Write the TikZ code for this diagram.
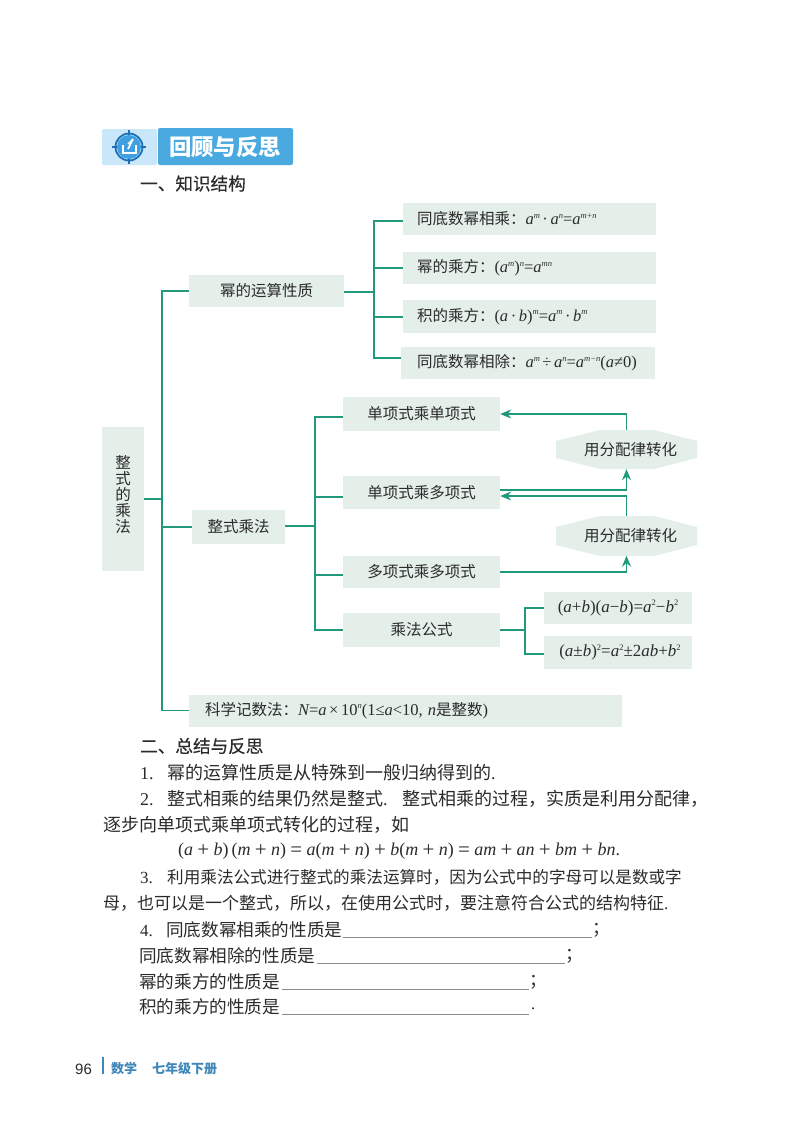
\documentclass[tikz,border=0pt]{standalone}
\usepackage{fontspec}
\setmainfont{Noto Sans CJK SC}
\newfontfamily\lat{Liberation Serif}
\newfontfamily\latsans{Liberation Sans}
\newfontfamily\headf[FakeBold=0.4]{Noto Sans CJK SC}
\usetikzlibrary{arrows.meta}
\definecolor{ink}{HTML}{2B2B2B}
\definecolor{gline}{HTML}{22997A}
\definecolor{boxfill}{HTML}{E4EFE9}
\definecolor{bluebar}{HTML}{4AA9DF}
\definecolor{bluelight}{HTML}{C9E7F9}
\definecolor{iconblue}{HTML}{1B6FB6}
\definecolor{icondisc}{HTML}{3F9FE0}
\definecolor{footblue}{HTML}{3F87B8}
\def\lsz{16.5}
\newcommand\mi[1]{{\lat\itshape\fontsize{\lsz}{\lsz}\selectfont #1}}
\newcommand\ro[1]{{\lat\fontsize{\lsz}{\lsz}\selectfont #1}}
\newcommand\su[1]{\raisebox{.42em}{\def\lsz{8.5}#1}}
\newcommand\pls{\hspace{4.3pt}\raisebox{-1pt}{{\lat\fontsize{21}{21}\selectfont +}}\hspace{4.3pt}}
\newcommand\eqs{\hspace{4.3pt}\raisebox{-1pt}{{\lat\fontsize{21}{21}\selectfont =}}\hspace{4.3pt}}
\tikzset{
  x=1pt,y=-1pt,
  bx/.style={fill=boxfill,inner sep=0pt,text=ink,font=\fontsize{15.5}{18}\selectfont,minimum height=32pt,align=center},
  lbx/.style={bx,align=left,inner xsep=#1pt},
  body/.style={anchor=west,inner sep=0pt,text=ink,font=\fontsize{17.6}{20}\selectfont},
  head/.style={anchor=west,inner sep=0pt,text=ink,font=\fontsize{17.6}{20}\headf},
  link/.style={draw=gline,line width=1.4pt},
  arr/.style={link,-{Stealth[length=11pt,width=9pt]}},
  hexlabel/.style={inner sep=0pt,text=ink,font=\fontsize{15.5}{18}\selectfont,minimum width=141pt,minimum height=39pt},
  blank/.style={draw=ink!55,line width=.8pt}
}
\begin{document}
\begin{tikzpicture}
\useasboundingbox (0,0) rectangle (800,1130);
\fill[white] (0,0) rectangle (800,1130);
% banner
\fill[bluelight,rounded corners=2pt] (102,129) rectangle (157,165);
\fill[bluebar,rounded corners=2pt] (158,128) rectangle (293,165);
\node[inner sep=0pt,text=white,font=\fontsize{22.4}{26}\bfseries\selectfont] (title) at (225,147) {回顾与反思};
\fill[icondisc] (129,147) circle (12);
\draw[iconblue,line width=1.8pt] (129,147) circle (13.5);
\foreach \a in {0,90,180,270}{\draw[iconblue,line width=1.8pt] (129,147) ++(\a:12) -- ++(\a:5);}
\draw[white,line width=1.3pt] (123,145) -- (123,153) -- (136,153) -- (136,145);
\draw[white,line width=1.6pt] (128,149) -- (133,139);
\draw[white,line width=1.2pt] (128,144) -- (133,139);
\node[head] (h1) at (140,183.5) {一、知识结构};
% root
\node[bx,minimum width=42pt,minimum height=144pt,font=\fontsize{15.5}{16}\selectfont] (root) at (123,499) {整\\式\\的\\乘\\法\\[-5pt]\mbox{}};
% first branch
\node[bx,minimum width=155pt] (p) at (266.5,291) {幂的运算性质};
\node[lbx=14,minimum width=253pt,text width=225pt] (p1) at (529.5,219) {同底数幂相乘：\mi{a}\su{\mi{m}}\,\ro{·}\,\mi{a}\su{\mi{n}}\ro{=}\mi{a}\su{\mi{m+n}}};
\node[lbx=14,minimum width=253pt,text width=225pt] (p2) at (529.5,268) {幂的乘方：\ro{(}\mi{a}\su{\mi{m}}\ro{)}\su{\mi{n}}\ro{=}\mi{a}\su{\mi{mn}}};
\node[lbx=14,minimum width=253pt,text width=225pt,minimum height=33pt] (p3) at (529.5,316.5) {积的乘方：\ro{(}\mi{a}\,\ro{·}\,\mi{b}\ro{)}\su{\mi{m}}\ro{=}\mi{a}\su{\mi{m}}\,\ro{·}\,\mi{b}\su{\mi{m}}};
\node[lbx=16,minimum width=254pt,text width=222pt] (p4) at (528,363) {同底数幂相除：\mi{a}\su{\mi{m}}\,\ro{÷}\,\mi{a}\su{\mi{n}}\ro{=}\mi{a}\su{\mi{m−n}}\ro{(}\mi{a}\ro{≠0)}};
% second branch
\node[bx,minimum width=93pt,minimum height=34pt] (m) at (238.5,527) {整式乘法};
\node[bx,minimum width=157pt,minimum height=34pt] (m1) at (421.5,414) {单项式乘单项式};
\node[bx,minimum width=157pt,minimum height=33pt] (m2) at (421.5,492.5) {单项式乘多项式};
\node[bx,minimum width=157pt] (m3) at (421.5,572) {多项式乘多项式};
\node[bx,minimum width=157pt,minimum height=34pt] (m4) at (421.5,630) {乘法公式};
\node[bx,minimum width=148pt] (f1) at (618,608) {\def\lsz{17}\ro{(}\mi{a}\ro{+}\mi{b}\ro{)(}\mi{a}\ro{−}\mi{b}\ro{)=}\mi{a}\su{\ro{2}}\ro{−}\mi{b}\su{\ro{2}}};
\node[bx,minimum width=148pt,minimum height=33pt] (f2) at (618,652.5) {\def\lsz{17}\hspace{4pt}\ro{(}\mi{a}\ro{±}\mi{b}\ro{)}\su{\ro{2}}\ro{=}\mi{a}\su{\ro{2}}\ro{±}\ro{2}\mi{ab}\ro{+}\mi{b}\su{\ro{2}}};
\node[lbx=16,minimum width=433pt,text width=401pt] (sci) at (405.5,710.5) {科学记数法：\mi{N}\ro{=}\mi{a}\,\ro{×}\,\ro{10}\su{\mi{n}}\ro{(1≤}\mi{a}\ro{<10, }\mi{n}是整数\ro{)}};
% hexagons
\fill[boxfill] (556,441) -- (600,430) -- (654,430) -- (697,441) -- (697,458) -- (654,469) -- (600,469) -- (556,458) -- cycle;
\fill[boxfill] (556,527) -- (600,516) -- (654,516) -- (697,527) -- (697,545) -- (654,556) -- (600,556) -- (556,545) -- cycle;
\node[hexlabel] (h1x) at (626.5,449.5) {\hspace{8pt}用分配律转化};
\node[hexlabel] (h2x) at (626.5,536) {\hspace{8pt}用分配律转化};
% connectors
\coordinate (trunk) at (162,499);
\coordinate (jp) at (374,292);
\coordinate (jm) at (315,526);
\coordinate (jf) at (525,630);
\draw[link] (root.east |- trunk) -- (trunk);
\draw[link] (p.west) -| (trunk);
\draw[link] (trunk) |- (sci.west);
\draw[link] (trunk) |- (m.west);
\draw[link] (p.east |- jp) -- (jp);
\draw[link] (p1.west |- 0,221) -| (jp);
\draw[link] (p2.west) -| (jp);
\draw[link] (jp) |- (p3.west |- 0,317);
\draw[link] (jp) |- (p4.west |- 0,358);
\draw[link] (m.east |- jm) -- (jm);
\draw[link] (m1.west |- 0,417) -| (jm);
\draw[link] (m2.west |- 0,497) -| (jm);
\draw[link] (jm) |- (m3.west |- 0,575);
\draw[link] (jm) |- (m4.west);
\draw[link] (m4.east) -- (jf);
\draw[link] (f1.west) -| (jf);
\draw[link] (jf) |- (f2.west |- 0,654);
\draw[arr] (h1x.north) |- (m1.east |- 0,414);
\draw[arr] (m2.east |- 0,490) -| (h1x.south);
\draw[arr] (h2x.north) |- (m2.east |- 0,496);
\draw[arr] (m3.east |- 0,572) -| (h2x.south);
% text
\node[head] (s2) at (140,746) {二、总结与反思};
\node[body,font=\fontsize{18}{20}\selectfont] (t1) at (140,773) {\def\lsz{18}\makebox[27pt][l]{\ro{1.}}幂的运算性质是从特殊到一般归纳得到的\ro{.}};
\node[body,font=\fontsize{18}{20}\selectfont] (t2) at (140,799) {\def\lsz{18}\makebox[27pt][l]{\ro{2.}}整式相乘的结果仍然是整式\makebox[19pt][l]{\ro{.}}整式相乘的过程，实质是利用分配律，};
\node[body,font=\fontsize{18}{20}\selectfont] (t3) at (103,825) {逐步向单项式乘单项式转化的过程，如};
\node[body] (t4) at (178,851) {\def\lsz{18}\ro{(}\mi{a}\pls\mi{b}\ro{)\,(}\mi{m}\pls\mi{n}\ro{)}\eqs\mi{a}\ro{(}\mi{m}\pls\mi{n}\ro{)}\pls\mi{b}\ro{(}\mi{m}\pls\mi{n}\ro{)}\eqs\mi{am}\pls\mi{an}\pls\mi{bm}\pls\mi{bn}\ro{.}};
\node[body,font=\fontsize{16.6}{20}\selectfont] (t5) at (140,877) {\def\lsz{17}\makebox[27pt][l]{\ro{3.}}利用乘法公式进行整式的乘法运算时，因为公式中的字母可以是数或字};
\node[body,font=\fontsize{17}{20}\selectfont] (t6) at (103,903) {\def\lsz{17}母，也可以是一个整式，所以，在使用公式时，要注意符合公式的结构特征\ro{.}};
\node[body] (t7) at (140,930) {\def\lsz{17}\makebox[26pt][l]{\ro{4.}}同底数幂相乘的性质是};
\node[body] (t8) at (139,956) {同底数幂相除的性质是};
\node[body] (t9) at (139,982) {幂的乘方的性质是};
\node[body] (t10) at (139,1007) {积的乘方的性质是};
\node[body] (e7) at (592,930) {；};
\node[body] (e8) at (565,956) {；};
\node[body] (e9) at (529,982) {；};
\node[body] (e10) at (531,1009) {\ro{.}};
\draw[blank] (343,937) -- (592,937);
\draw[blank] (317,963) -- (565,963);
\draw[blank] (282,989) -- (529,989);
\draw[blank] (282,1014) -- (529,1014);
% footer
\node[anchor=west,inner sep=0pt,text=ink,font=\fontsize{15}{18}\selectfont\latsans] (pg) at (75,1069) {96};
\fill[footblue] (101.5,1057) rectangle (103.5,1074);
\node[anchor=west,inner sep=0pt,text=footblue,font=\fontsize{13}{16}\bfseries\selectfont] (f-a) at (111,1069) {数学};
\node[anchor=west,inner sep=0pt,text=footblue,font=\fontsize{13}{16}\bfseries\selectfont] (f-b) at (152,1069) {七年级下册};
\end{tikzpicture}
\end{document}
